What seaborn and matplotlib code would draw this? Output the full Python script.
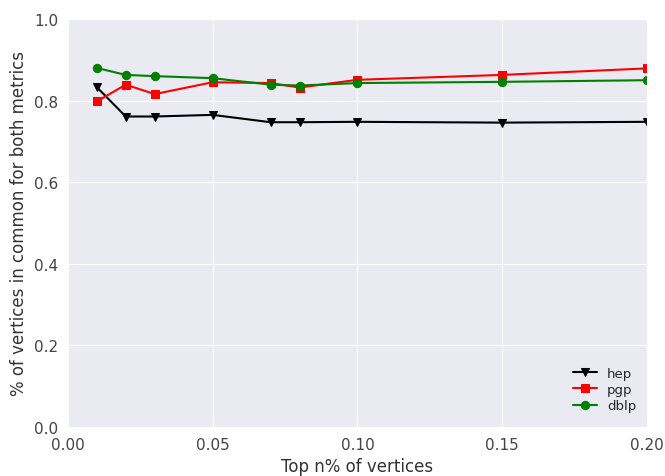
import matplotlib
matplotlib.use("Agg")
import matplotlib.pyplot as plt
import seaborn as sns

top_n = [0.01, 0.02, 0.03, 0.05, 0.07, 0.08, 0.10, 0.15, 0.20]
hep = [0.833, 0.761, 0.761, 0.765, 0.747, 0.747, 0.748, 0.746, 0.748]
pgp = [0.798, 0.839, 0.816, 0.845, 0.843, 0.832, 0.851, 0.863, 0.879]
dblp = [0.880, 0.863, 0.860, 0.855, 0.839, 0.837, 0.843, 0.846, 0.850]

sns.set_style("darkgrid")
plt.rcParams['font.family'] = ['DejaVu Sans']

fig, ax = plt.subplots(figsize=(6.65, 4.77), dpi=100)
sns.lineplot(x=top_n, y=hep, color="k", marker="v", markersize=6,
             markeredgecolor="k", linewidth=1.5, label="hep", ax=ax)
sns.lineplot(x=top_n, y=pgp, color="r", marker="s", markersize=6,
             markeredgecolor="r", linewidth=1.5, label="pgp", ax=ax)
sns.lineplot(x=top_n, y=dblp, color="g", marker="o", markersize=6,
             markeredgecolor="g", linewidth=1.5, label="dblp", ax=ax)

ax.set_xlim(0, 0.2)
ax.set_ylim(0, 1.0)
ax.set_xticks([0.0, 0.05, 0.10, 0.15, 0.20])
ax.set_xticklabels(["0.00", "0.05", "0.10", "0.15", "0.20"])
ax.set_yticks([0.0, 0.2, 0.4, 0.6, 0.8, 1.0])
ax.tick_params(labelsize=11, colors="#444444")
ax.set_xlabel("Top n% of vertices", fontsize=12, color="#333333")
ax.set_ylabel("% of vertices in common for both metrics", fontsize=12, color="#333333")
ax.legend(loc="lower right", bbox_to_anchor=(1.0, 0.01), frameon=False,
          fontsize=9.5, handlelength=1.8, labelspacing=0.25, borderaxespad=0.4)

fig.subplots_adjust(left=0.102, right=0.973, top=0.958, bottom=0.103)
plt.savefig("out.png", dpi=100)
